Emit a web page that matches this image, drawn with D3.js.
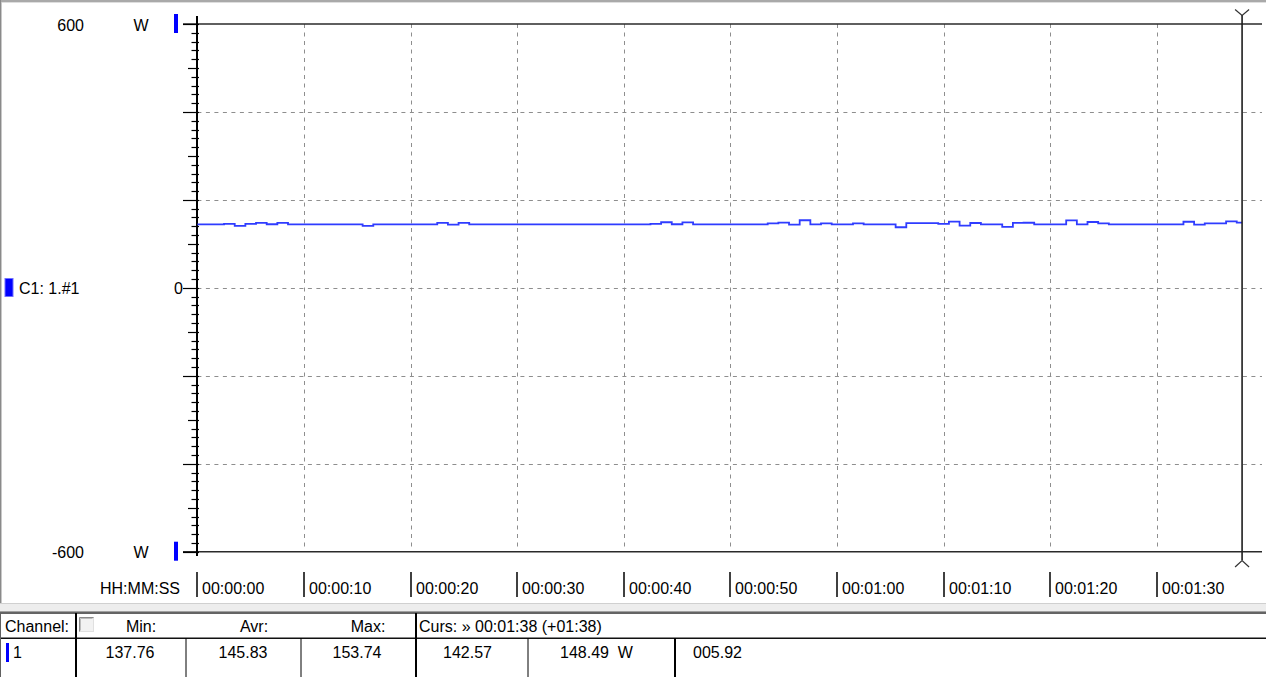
<!DOCTYPE html>
<html><head><meta charset="utf-8">
<script src="https://cdn.jsdelivr.net/npm/d3@7"></script>
<style>
body{margin:0;background:#fff;}
svg{display:block;}
text{font-family:"Liberation Sans",Arial,sans-serif;font-size:16px;fill:#000;}
</style>
</head><body>
<svg id="chart" width="1266" height="677"></svg>
<script>
// ---- data ----
const powerW = [
  144.2,144.2,144.2,145.3,140.8,145.3,147.6,144.6,147.6,144.2,
  144.2,144.2,144.2,144.2,144.2,144.2,140.8,144.2,144.2,144.2,
  144.2,144.2,144.2,147.6,143.8,147.6,144.2,144.2,144.2,144.2,
  144.2,144.2,144.2,144.2,144.2,144.2,144.2,144.2,144.2,144.2,
  144.2,144.2,144.2,145.3,149.2,144.6,148.9,144.2,144.2,144.2,
  144.2,144.2,144.2,144.2,146.8,148.4,143.8,153.7,144.2,146.8,
  144.2,144.2,146.8,144.2,144.2,144.2,137.8,147.0,147.0,147.0,
  145.5,150.5,141.7,147.5,144.2,144.2,138.8,147.6,148.0,144.2,
  144.2,144.2,153.5,144.2,149.7,146.5,144.2,144.2,144.2,144.2,
  144.2,144.2,144.2,150.3,144.0,146.6,146.6,151.0,148.5
];
const xTickSeconds = [0,10,20,30,40,50,60,70,80,90];
const xTickLabels = ["00:00:00","00:00:10","00:00:20","00:00:30","00:00:40","00:00:50","00:01:00","00:01:10","00:01:20","00:01:30"];
const xAxisTitle = "HH:MM:SS";
const yGridValues = [-400,-200,0,200,400];
const yLabelValues = [600,0,-600];
const yLabelTexts = ["600","0","-600"];
const unitLabel = "W";
const channelName = "C1: 1.#1";
const cursorSeconds = 98;
const statHeaders = ["Min:","Avr:","Max:"];
const statValues = ["137.76","145.83","153.74"];
const cursorHeader = "Curs: \u00bb 00:01:38 (+01:38)";
const cursorValues = ["142.57","148.49  W","005.92"];
const channelLabel = "Channel:";
const channelId = "1";

// ---- drawing ----
const svg = d3.select("#chart");
const x = d3.scaleLinear().domain([0,100]).range([197.4,1263.4]);
const y = d3.scaleLinear().domain([-600,600]).range([551.7,24]);
const X0 = x(0), XR = 1262;

svg.append("rect").attr("width",1266).attr("height",677).attr("fill","#fff");

// window frame
svg.append("rect").attr("x",0).attr("y",0).attr("width",1266).attr("height",2).attr("fill","#a9a9a9");
svg.append("line").attr("x1",0).attr("x2",1266).attr("y1",2.5).attr("y2",2.5).attr("stroke","#dedede");
svg.append("line").attr("x1",0.5).attr("x2",0.5).attr("y1",0).attr("y2",603).attr("stroke","#8a8a8a");
svg.append("line").attr("x1",1.5).attr("x2",1.5).attr("y1",2).attr("y2",603).attr("stroke","#c8c8c8");

// gridlines
const grid = svg.append("g").attr("stroke","#8e8e8e").attr("stroke-width",1).attr("stroke-dasharray","4,4.5");
grid.selectAll("line.h").data(yGridValues).join("line")
  .attr("x1",X0).attr("x2",XR)
  .attr("y1",d=>Math.round(y(d))+0.5).attr("y2",d=>Math.round(y(d))+0.5);
grid.selectAll("line.v").data(xTickSeconds.filter(d=>d>0)).join("line")
  .attr("x1",d=>Math.round(x(d))+0.5).attr("x2",d=>Math.round(x(d))+0.5)
  .attr("y1",y(600)).attr("y2",y(-600));

// top/bottom frame lines
[600,-600].forEach(v=>{
  svg.append("line").attr("x1",183).attr("x2",XR)
    .attr("y1",y(v)).attr("y2",y(v)).attr("stroke","#2a2a2a").attr("stroke-width",1.6);
});

// y axis line
svg.append("line").attr("x1",X0-0.4).attr("x2",X0-0.4).attr("y1",16).attr("y2",556)
  .attr("stroke","#000").attr("stroke-width",2);

// y ticks
const tickVals = y.ticks(60);
svg.append("g").selectAll("line").data(tickVals).join("line")
  .attr("x1",d=> (d%200===0) ? 183 : (d%100===0 ? 188 : 191.5))
  .attr("x2",199)
  .attr("y1",d=>Math.round(y(d))+0.5).attr("y2",d=>Math.round(y(d))+0.5)
  .attr("stroke","#000").attr("stroke-width",1.2);

// y labels
svg.append("g").selectAll("text").data(yLabelValues).join("text")
  .attr("x",d=> d===0 ? 183 : 84)
  .attr("y",d=>y(d)+6.5)
  .attr("text-anchor","end")
  .text((d,i)=>yLabelTexts[i]);
[600,-600].forEach(v=>{
  svg.append("text").attr("x",141).attr("y",y(v)+6.5).attr("text-anchor","middle").text(unitLabel);
  svg.append("rect").attr("x",174).attr("y",y(v)-10).attr("width",4).attr("height",19).attr("fill","#0000ff");
});

// channel label
svg.append("rect").attr("x",5).attr("y",278.5).attr("width",8).attr("height",18)
  .attr("fill","#0000ff").attr("stroke","#7070ff").attr("stroke-width",1);
svg.append("text").attr("x",19).attr("y",y(0)+6.5).text(channelName);

// data line
const line = d3.line().x((d,i)=>x(i)).y(d=>y(d)).curve(d3.curveStep);
svg.append("path").datum(powerW).attr("d",line)
  .attr("fill","none").attr("stroke","#2f3cff").attr("stroke-width",1.8);

// cursor
const cx = x(cursorSeconds);
svg.append("line").attr("x1",cx).attr("x2",cx).attr("y1",15).attr("y2",560)
  .attr("stroke","#1e1e1e").attr("stroke-width",1.6);
svg.append("path").attr("d",`M${cx-7},9.5L${cx},15.5L${cx+7},9.5`)
  .attr("fill","none").attr("stroke","#333").attr("stroke-width",1.2);
svg.append("path").attr("d",`M${cx-7},567L${cx},560.5L${cx+7},567`)
  .attr("fill","none").attr("stroke","#333").attr("stroke-width",1.2);

// x axis labels
const xl = svg.append("g");
xl.selectAll("line").data(xTickSeconds).join("line")
  .attr("x1",d=>Math.round(x(d))).attr("x2",d=>Math.round(x(d)))
  .attr("y1",572).attr("y2",597).attr("stroke","#000").attr("stroke-width",1.5);
xl.selectAll("text").data(xTickSeconds).join("text")
  .attr("x",d=>Math.round(x(d))+5).attr("y",593.5)
  .text((d,i)=>xTickLabels[i]);
svg.append("text").attr("x",180).attr("y",593.5).attr("text-anchor","end").text(xAxisTitle);

// separator band
svg.append("rect").attr("x",0).attr("y",603).attr("width",1266).attr("height",9).attr("fill","#ededed");
svg.append("line").attr("x1",0).attr("x2",1266).attr("y1",603.5).attr("y2",603.5).attr("stroke","#d0d0d0");
svg.append("line").attr("x1",0).attr("x2",1266).attr("y1",611.5).attr("y2",611.5).attr("stroke","#a0a0a0");

// table
const tb = svg.append("g");
tb.append("rect").attr("x",0).attr("y",612).attr("width",1266).attr("height",65).attr("fill","#fff");
tb.append("line").attr("x1",0).attr("x2",1266).attr("y1",613).attr("y2",613).attr("stroke","#303030").attr("stroke-width",1.5);
tb.append("line").attr("x1",0).attr("x2",1266).attr("y1",638.3).attr("y2",638.3).attr("stroke","#101010").attr("stroke-width",1.5);
tb.append("line").attr("x1",0.5).attr("x2",0.5).attr("y1",613).attr("y2",677).attr("stroke","#606060");
const vlines = [
  {x:76, y1:613, w:2}, {x:416, y1:613, w:2},
  {x:186, y1:638, w:1}, {x:301, y1:638, w:1},
  {x:528, y1:638, w:1}, {x:675, y1:638, w:2}
];
tb.selectAll("line.v").data(vlines).join("line")
  .attr("x1",d=>d.x).attr("x2",d=>d.x).attr("y1",d=>d.y1).attr("y2",677)
  .attr("stroke","#000").attr("stroke-width",d=>d.w);

// checkbox
tb.append("rect").attr("x",79.5).attr("y",617.5).attr("width",14).attr("height",14).attr("fill","#f2f2f2").attr("stroke","#e0e0e0");
tb.append("path").attr("d","M79.5,631.5V617.5H93.5").attr("fill","none").attr("stroke","#8a8a8a");
tb.append("path").attr("d","M80.5,630.5V618.5H92.5").attr("fill","none").attr("stroke","#bdbdbd");

tb.append("text").attr("x",5).attr("y",632).text(channelLabel);
const headerX = [141,254,368];
tb.selectAll("text.h").data(statHeaders).join("text").attr("class","h")
  .attr("x",(d,i)=>headerX[i]).attr("y",632).attr("text-anchor","middle").text(d=>d);
tb.append("text").attr("x",419).attr("y",632).text(cursorHeader);

tb.append("rect").attr("x",6).attr("y",643).attr("width",3).attr("height",19).attr("fill","#0000ff");
tb.append("text").attr("x",13).attr("y",658).text(channelId);
const valX = [130,243,357];
tb.selectAll("text.v").data(statValues).join("text").attr("class","v")
  .attr("x",(d,i)=>valX[i]).attr("y",658).attr("text-anchor","middle").text(d=>d);
const curX = [443,560,693];
tb.selectAll("text.c").data(cursorValues).join("text").attr("class","c")
  .attr("x",(d,i)=>curX[i]).attr("y",658).attr("xml:space","preserve").style("white-space","pre").text(d=>d);
</script>
</body></html>
